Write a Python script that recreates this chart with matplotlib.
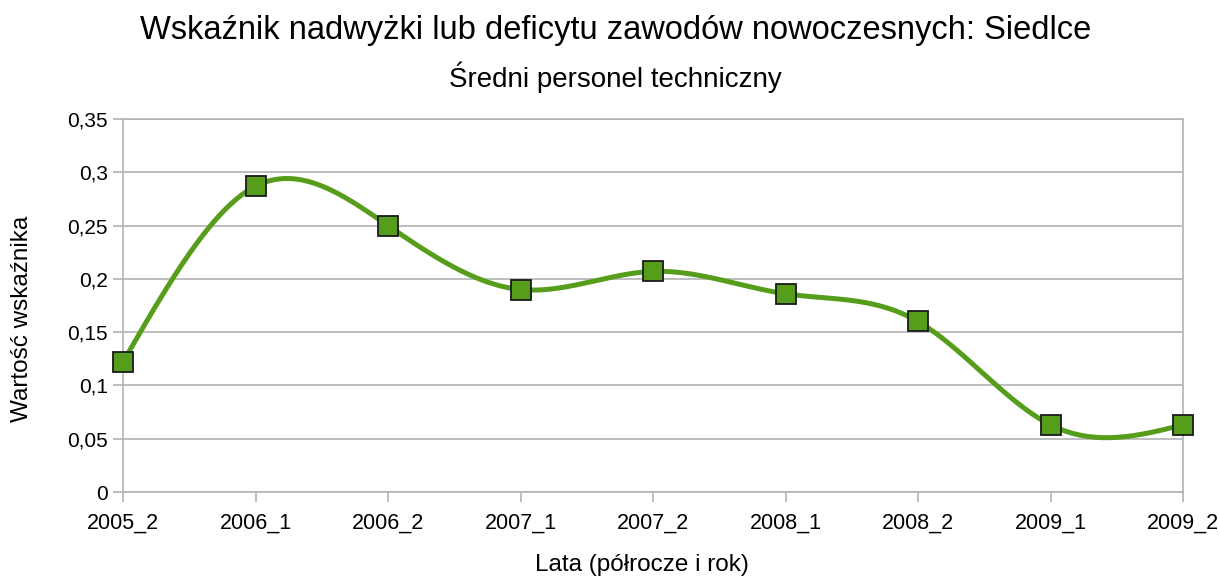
import numpy as np
import matplotlib
matplotlib.use('Agg')
import matplotlib.pyplot as plt

plt.rcParams['font.family'] = ['Liberation Sans', 'DejaVu Sans']

labels = ['2005_2', '2006_1', '2006_2', '2007_1', '2007_2',
          '2008_1', '2008_2', '2009_1', '2009_2']
values = [0.122, 0.287, 0.250, 0.190, 0.207, 0.186, 0.160, 0.063, 0.063]


def natural_spline(x, y, n=400):
    # natural cubic spline, like the smoothed line in the office chart
    x = np.asarray(x, float)
    y = np.asarray(y, float)
    k = len(x)
    h = np.diff(x)
    A = np.zeros((k, k))
    b = np.zeros(k)
    A[0, 0] = 1
    A[-1, -1] = 1
    for i in range(1, k - 1):
        A[i, i - 1] = h[i - 1]
        A[i, i] = 2 * (h[i - 1] + h[i])
        A[i, i + 1] = h[i]
        b[i] = 6 * ((y[i + 1] - y[i]) / h[i] - (y[i] - y[i - 1]) / h[i - 1])
    m = np.linalg.solve(A, b)
    xs = np.linspace(x[0], x[-1], n)
    idx = np.clip(np.searchsorted(x, xs) - 1, 0, k - 2)
    x0, x1 = x[idx], x[idx + 1]
    hh = x1 - x0
    t0 = x1 - xs
    t1 = xs - x0
    ys = (m[idx] * t0 ** 3 / (6 * hh) + m[idx + 1] * t1 ** 3 / (6 * hh)
          + (y[idx] / hh - m[idx] * hh / 6) * t0
          + (y[idx + 1] / hh - m[idx + 1] * hh / 6) * t1)
    return xs, ys


fig = plt.figure(figsize=(12.19, 5.78), dpi=100)
ax = fig.add_axes([123 / 1219, 1 - 492 / 578, (1183 - 123) / 1219, (492 - 119) / 578])

x = np.arange(len(labels))
xs, ys = natural_spline(x, values)
green = '#579d1c'
ax.plot(xs, ys, color=green, linewidth=3.6, solid_capstyle='round', zorder=3, clip_on=False)
ax.plot(x, values, linestyle='none', marker='s', markersize=14, clip_on=False,
        markerfacecolor=green, markeredgecolor='#1a1a1a', markeredgewidth=1.3, zorder=4)

ax.set_xlim(0, len(labels) - 1)
ax.set_ylim(0, 0.35)
ax.set_xticks(x)
ax.set_xticklabels(labels)
yt = np.arange(0, 0.351, 0.05)
ax.set_yticks(yt)
ax.set_yticklabels(['0' if v == 0 else ('%g' % round(v, 2)).replace('.', ',') for v in yt])
ax.grid(True, axis='y', color='#b3b3b3', linewidth=1.2)
ax.set_axisbelow(True)
for s in ax.spines.values():
    s.set_color('#b3b3b3')
    s.set_linewidth(1.2)
ax.tick_params(axis='both', colors='#b3b3b3', labelcolor='#000000', width=1.2)
ax.tick_params(axis='x', labelsize=15.5, length=7, pad=8)
ax.tick_params(axis='y', labelsize=15, length=7, pad=4)

ax.set_xlabel('Lata (półrocze i rok)', fontsize=17.5)
ax.set_ylabel('Wartość wskaźnika', fontsize=17.5)
ax.xaxis.set_label_coords(0.49, -0.165)
ax.yaxis.set_label_coords(-0.085, 0.464)

fig.text(0.505, 1 - 30 / 578, 'Wskaźnik nadwyżki lub deficytu zawodów nowoczesnych: Siedlce',
         ha='center', va='center', fontsize=23.5)
fig.text(0.505, 1 - 77 / 578, 'Średni personel techniczny',
         ha='center', va='center', fontsize=20)

fig.savefig('out.png', dpi=100, facecolor='white')
